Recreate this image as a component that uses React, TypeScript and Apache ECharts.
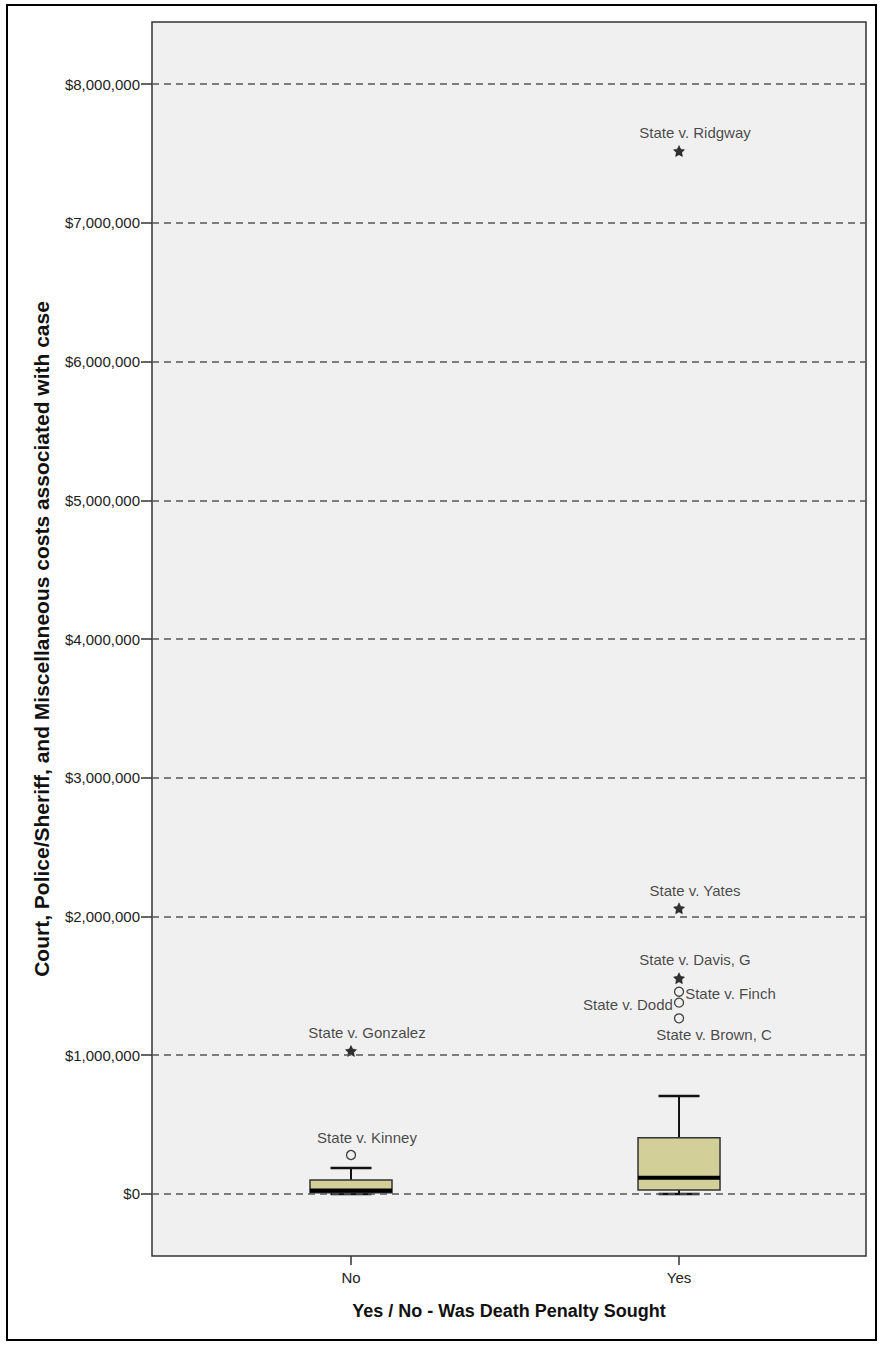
import React, { useEffect, useRef } from "react";
import * as echarts from "echarts";

const categories = ["No", "Yes"];
const boxMin = [0, 0];
const boxQ1 = [8000, 29000];
const boxMedian = [25000, 117000];
const boxQ3 = [100000, 406000];
const boxMax = [187000, 706000];

const outlierNames = [
  "State v. Gonzalez",
  "State v. Kinney",
  "State v. Ridgway",
  "State v. Yates",
  "State v. Davis, G",
  "State v. Finch",
  "State v. Dodd",
  "State v. Brown, C",
];
const outlierCategory = ["No", "No", "Yes", "Yes", "Yes", "Yes", "Yes", "Yes"];
const outlierValues = [1031000, 281000, 7517000, 2059000, 1555000, 1458000, 1379000, 1266000];
const outlierKinds = ["extreme", "outlier", "extreme", "extreme", "extreme", "outlier", "outlier", "outlier"];

const yTicks = [0, 1000000, 2000000, 3000000, 4000000, 5000000, 6000000, 7000000, 8000000];

const STAR =
  "path://M0,-10 L2.94,-4.05 L9.51,-3.09 L4.76,1.55 L5.88,8.09 L0,5 L-5.88,8.09 L-4.76,1.55 L-9.51,-3.09 L-2.94,-4.05 Z";

export default function App() {
  const ref = useRef<HTMLDivElement>(null);
  useEffect(() => {
    if (!ref.current) return;
    const chart = echarts.init(ref.current, null, { renderer: "svg" });
    const font = "'Liberation Sans', Arial, sans-serif";

    const boxData = categories.map((c, i) => [
      i + 1,
      boxMin[i],
      boxQ1[i],
      boxMedian[i],
      boxQ3[i],
      boxMax[i],
    ]);

    const labelPlacement: Record<string, any> = {
      "State v. Finch": { position: "right", distance: 1, offset: [0, 2] },
      "State v. Dodd": { position: "left", distance: 1, offset: [0, 2] },
      "State v. Brown, C": { position: "bottom", distance: 4, offset: [35, 0] },
    };

    const outlierData = outlierNames.map((n, i) => {
      const kind = outlierKinds[i];
      const lp = labelPlacement[n] || { position: "top", distance: 5, offset: [16, 0] };
      return {
        name: n,
        value: [categories.indexOf(outlierCategory[i]) + 1, outlierValues[i]],
        symbol: kind === "extreme" ? STAR : "circle",
        symbolSize: kind === "extreme" ? 11 : 9,
        itemStyle:
          kind === "extreme"
            ? { color: "#000", borderColor: "#000", borderWidth: 0.5 }
            : { color: "#f0f0f0", borderColor: "#111", borderWidth: 1.3 },
        label: { show: true, formatter: n, ...lp },
      };
    });

    chart.setOption({
      animation: false,
      backgroundColor: "#ffffff",
      textStyle: { fontFamily: font },
      grid: {
        left: 152,
        top: 22,
        right: 15,
        bottom: 89,
        show: true,
        backgroundColor: "#f0f0f0",
        borderColor: "#333",
        borderWidth: 1.5,
      },
      graphic: [
        {
          type: "rect",
          shape: { x: 7, y: 5, width: 869, height: 1335 },
          style: { fill: "none", stroke: "#000", lineWidth: 2 },
          z: 100,
        },
      ],
      xAxis: {
        type: "value",
        min: 0.3933,
        max: 2.57,
        name: "Yes / No - Was Death Penalty Sought",
        nameLocation: "middle",
        nameGap: 46,
        nameTextStyle: { fontSize: 18, fontWeight: "bold", color: "#111", fontFamily: font },
        axisLine: { show: false, onZero: false },
        splitLine: { show: false },
        axisTick: { show: true, length: 9, customValues: [1, 2], lineStyle: { color: "#333", width: 1.5 } },
        axisLabel: {
          customValues: [1, 2],
          formatter: (v: number) => categories[Math.round(v) - 1] || "",
          fontSize: 15,
          color: "#222",
          margin: 14,
          fontFamily: font,
        },
      },
      yAxis: {
        type: "value",
        min: -447000,
        max: 8447000,
        name: "Court, Police/Sheriff, and Miscellaneous costs associated with case",
        nameLocation: "middle",
        nameGap: 100,
        nameTextStyle: { fontSize: 21, fontWeight: "bold", color: "#111", fontFamily: font },
        axisLine: { show: false, onZero: false },
        splitLine: { show: false },
        axisTick: { show: true, length: 11, customValues: yTicks, lineStyle: { color: "#333", width: 1.5 } },
        axisLabel: {
          customValues: yTicks,
          formatter: (v: number) => "$" + Math.round(v).toLocaleString("en-US"),
          fontSize: 15,
          color: "#222",
          margin: 12,
          fontFamily: font,
        },
      },
      series: [
        {
          type: "line",
          data: [],
          z: 1,
          silent: true,
          markLine: {
            silent: true,
            symbol: "none",
            label: { show: false },
            lineStyle: { type: [7, 5], color: "#555", width: 1.5 },
            data: yTicks.map((v) => ({ yAxis: v })),
          },
        },
        {
          type: "custom",
          z: 3,
          data: boxData,
          renderItem: (params: any, api: any) => {
            const x = api.value(0);
            const w = api.size([0.25, 0])[0];
            const pMin = api.coord([x, api.value(1)]);
            const pQ1 = api.coord([x, api.value(2)]);
            const pMed = api.coord([x, api.value(3)]);
            const pQ3 = api.coord([x, api.value(4)]);
            const pMax = api.coord([x, api.value(5)]);
            const cx = pMed[0];
            const lineStyle = { stroke: "#111", lineWidth: 2 };
            return {
              type: "group",
              children: [
                { type: "line", shape: { x1: cx, y1: pQ3[1], x2: cx, y2: pMax[1] }, style: lineStyle },
                { type: "line", shape: { x1: cx - w / 4, y1: pMax[1], x2: cx + w / 4, y2: pMax[1] }, style: { stroke: "#111", lineWidth: 2.5 } },
                { type: "line", shape: { x1: cx, y1: pQ1[1], x2: cx, y2: pMin[1] }, style: lineStyle },
                { type: "line", shape: { x1: cx - w / 4, y1: pMin[1], x2: cx + w / 4, y2: pMin[1] }, style: { stroke: "#111", lineWidth: 2.5 } },
                {
                  type: "rect",
                  shape: { x: cx - w / 2, y: pQ3[1], width: w, height: pQ1[1] - pQ3[1] },
                  style: { fill: "#d3cf98", stroke: "#333", lineWidth: 1.5 },
                },
                { type: "line", shape: { x1: cx - w / 2, y1: pMed[1], x2: cx + w / 2, y2: pMed[1] }, style: { stroke: "#000", lineWidth: 4 } },
              ],
            };
          },
        },
        {
          type: "scatter",
          z: 4,
          data: outlierData,
          label: { show: true, fontSize: 15, color: "#1a1a1a", fontFamily: font },
        },
      ],
    });
    return () => chart.dispose();
  }, []);
  return (
    <div
      ref={ref}
      style={{ position: "fixed", left: 0, top: 0, width: 881, height: 1345, background: "#fff" }}
    />
  );
}
